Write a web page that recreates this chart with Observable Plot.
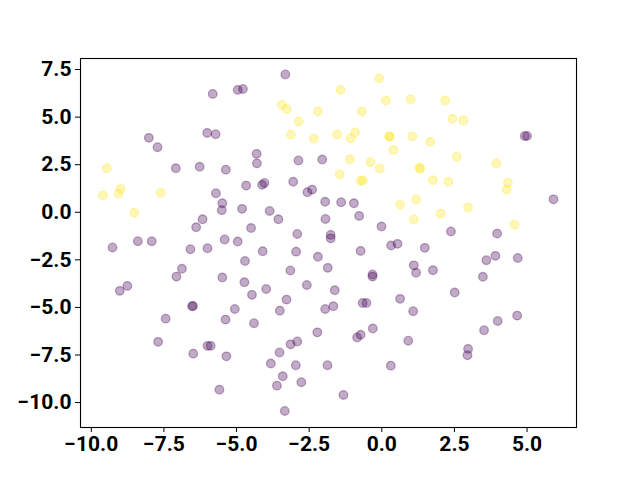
<!DOCTYPE html>
<html>
<head>
<meta charset="utf-8">
<script src="https://cdn.jsdelivr.net/npm/d3@7"></script>
<script src="https://cdn.jsdelivr.net/npm/@observablehq/plot@0.6"></script>
<style>
  html, body { margin: 0; padding: 0; background: #fff; }
  #chart svg { display: block; }
</style>
</head>
<body>
<div id="chart"></div>
<script>
// Yellow group (class 1)
const yellowX = [-0.09, -1.42, -3.45, -3.27, 0.14, 0.99, 2.18, -2.20, -0.69, -2.86, 2.43, 2.81,
  -3.13, -2.34, -1.54, -1.07, -0.92, 0.25, 0.28, 1.05, 1.67, 0.40, 2.58, 3.94, -1.10, -0.39,
  -0.07, -1.45, -0.73, -0.65, 1.30, 1.32, 1.76, 2.29, 4.34, 4.30, -9.47, -8.99, -9.07, -9.60,
  -7.61, -8.52, 0.63, 1.18, 1.10, 2.03, 2.97, 4.57];
const yellowY = [7.04, 6.43, 5.65, 5.43, 5.87, 5.94, 5.87, 5.31, 5.29, 4.77, 4.91, 4.82,
  4.07, 3.86, 4.08, 3.89, 4.19, 3.99, 3.97, 3.99, 3.70, 3.28, 2.91, 2.57, 2.79, 2.63,
  2.30, 2.00, 1.65, 1.67, 2.35, 2.28, 1.68, 1.60, 1.56, 1.19, 2.31, 1.23, 0.97, 0.89,
  1.02, -0.02, 0.40, 0.67, -0.38, -0.07, 0.25, -0.66];

// Purple group (class 0)
const purpleX = [-3.32, -5.82, -4.96, -4.78, -8.02, -7.72, -6.01, -5.72, -7.09, -6.27, -5.37, -4.67,
  -4.31, -4.30, -2.87, -2.05, -4.12, -4.04, -3.05, 4.92, 5.00, 5.91, -5.71, -5.49, -5.51, -4.81,
  -6.17, -6.39, -4.50, -9.27, -8.40, -7.92, -6.59, -6.00, -5.41, -4.96, -4.71, -6.88, -7.07, -5.49,
  -4.73, -8.76, -9.02, -4.47, -2.56, -2.40, -1.95, -1.40, -0.96, -3.86, -3.56, -1.94, -0.78, -0.01,
  -2.91, -1.76, -1.76, 0.32, 0.54, -4.10, -2.95, -2.20, -0.73, -1.86, -3.15, -0.32, -0.32, -2.58,
  -3.98, -1.62, -3.28, 0.63, -0.66, -0.53, -1.95, -1.67, -3.51, -4.40, -2.22, -0.31, -0.85, -0.73,
  0.91, -3.14, -2.91, -3.52, -3.82, -2.96, -1.87, 0.31, -3.41, -3.61, -2.77, -1.32, -3.34, 1.08,
  3.52, 3.99, 4.66, 2.97, 2.95, -6.53, -6.50, -5.06, -7.44, -5.38, -7.70, -6.00, -5.89, -6.49,
  -5.35, -5.59, 2.38, 3.97, 1.48, 3.60, 3.91, 4.68, 1.10, 1.18, 1.76, 3.48, 2.51];
const purpleY = [7.24, 6.22, 6.43, 6.48, 3.91, 3.42, 4.17, 4.10, 2.31, 2.39, 2.24, 1.40,
  3.07, 2.57, 2.72, 2.77, 1.44, 1.54, 1.60, 4.01, 4.01, 0.68, 1.00, 0.47, 0.11, 0.18,
  -0.37, -0.79, -0.83, -1.85, -1.52, -1.52, -1.94, -1.89, -1.43, -1.54, -2.56, -2.97, -3.38, -3.43,
  -3.68, -3.87, -4.13, -4.34, 1.05, 1.19, 0.55, 0.53, 0.47, 0.07, -0.37, -0.35, -0.19, -0.75,
  -1.14, -1.19, -1.37, -1.75, -1.66, -2.05, -2.07, -2.34, -2.03, -2.92, -3.06, -3.27, -3.38, -3.82,
  -4.03, -4.10, -4.59, -4.55, -4.77, -4.77, -5.08, -4.94, -5.17, -5.83, -6.31, -6.11, -6.58, -6.44,
  -6.75, -6.94, -6.79, -7.37, -7.95, -8.04, -8.04, -8.06, -8.62, -9.11, -8.93, -9.60, -10.44, -5.20,
  -6.20, -5.71, -5.43, -7.18, -7.51, -4.94, -4.92, -5.08, -5.59, -5.64, -6.81, -7.02, -7.02, -7.43,
  -7.57, -9.32, -1.01, -1.12, -1.87, -2.52, -2.29, -2.40, -2.79, -3.18, -3.05, -3.39, -4.22];

const xTicks = [-10, -7.5, -5, -2.5, 0, 2.5, 5];
const yTicks = [-10, -7.5, -5, -2.5, 0, 2.5, 5, 7.5];
const groupColors = ["#440154", "#fde725"];

const points = [
  ...purpleX.map((x, i) => ({x, y: purpleY[i], g: 0})),
  ...yellowX.map((x, i) => ({x, y: yellowY[i], g: 1}))
];

const fmt = d3.format(".1f");

const chart = Plot.plot({
  width: 640,
  height: 480,
  marginLeft: 80,
  marginRight: 64,
  marginTop: 58,
  marginBottom: 53,
  style: {fontFamily: "Roboto", fontWeight: "700", fontSize: "21px", color: "#000", background: "#fff"},
  x: {domain: [-10.372, 6.702], ticks: xTicks, tickFormat: fmt, label: null},
  y: {domain: [-11.31, 8.08], ticks: yTicks, tickFormat: fmt, label: null},
  marks: [
    Plot.dot(points, {
      x: "x", y: "y", r: 4.3,
      fill: d => groupColors[d.g], fillOpacity: 0.33,
      stroke: d => groupColors[d.g], strokeOpacity: 0.33, strokeWidth: 1.3
    }),
    Plot.frame({stroke: "#000", strokeWidth: 1.1}),
    Plot.axisX({ticks: xTicks, tickFormat: fmt, tickSize: 5, tickPadding: 4, label: null, fontSize: 21, fontWeight: 700}),
    Plot.axisY({ticks: yTicks, tickFormat: fmt, tickSize: 5, tickPadding: 4, label: null, fontSize: 21, fontWeight: 700})
  ]
});
document.getElementById("chart").appendChild(chart);
</script>
</body>
</html>
